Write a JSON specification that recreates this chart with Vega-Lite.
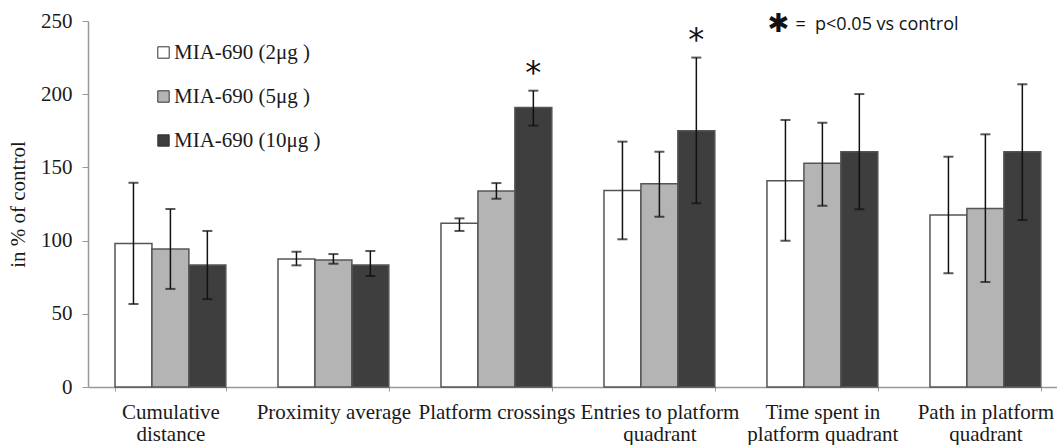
{
  "$schema": "https://vega.github.io/schema/vega-lite/v6.json",
  "autosize": {"type": "none"},
  "width": 969,
  "height": 366,
  "padding": {"left": 88, "top": 21, "right": 0, "bottom": 58},
  "background": "white",
  "config": {
    "view": {"stroke": null},
    "font": "Liberation Serif"
  },
  "data": {
    "values": [
      {"group": "Cumulative distance", "dose": "MIA-690 (2μg )", "value": 98, "lo": 56.7, "hi": 139.5, "sig": false},
      {"group": "Cumulative distance", "dose": "MIA-690 (5μg )", "value": 94.3, "lo": 67, "hi": 121.6, "sig": false},
      {"group": "Cumulative distance", "dose": "MIA-690 (10μg )", "value": 83.3, "lo": 60, "hi": 106.6, "sig": false},
      {"group": "Proximity average", "dose": "MIA-690 (2μg )", "value": 87.4, "lo": 83.1, "hi": 92.4, "sig": false},
      {"group": "Proximity average", "dose": "MIA-690 (5μg )", "value": 86.7, "lo": 84.2, "hi": 90.8, "sig": false},
      {"group": "Proximity average", "dose": "MIA-690 (10μg )", "value": 83.3, "lo": 75.8, "hi": 92.9, "sig": false},
      {"group": "Platform crossings", "dose": "MIA-690 (2μg )", "value": 111.8, "lo": 106.6, "hi": 115.2, "sig": false},
      {"group": "Platform crossings", "dose": "MIA-690 (5μg )", "value": 133.9, "lo": 128.6, "hi": 139.3, "sig": false},
      {"group": "Platform crossings", "dose": "MIA-690 (10μg )", "value": 191, "lo": 178.5, "hi": 202.4, "sig": true},
      {"group": "Entries to platform quadrant", "dose": "MIA-690 (2μg )", "value": 134.3, "lo": 100.9, "hi": 167.6, "sig": false},
      {"group": "Entries to platform quadrant", "dose": "MIA-690 (5μg )", "value": 138.9, "lo": 116.3, "hi": 160.7, "sig": false},
      {"group": "Entries to platform quadrant", "dose": "MIA-690 (10μg )", "value": 175, "lo": 125.5, "hi": 225, "sig": true},
      {"group": "Time spent in platform quadrant", "dose": "MIA-690 (2μg )", "value": 140.9, "lo": 99.9, "hi": 182.4, "sig": false},
      {"group": "Time spent in platform quadrant", "dose": "MIA-690 (5μg )", "value": 152.8, "lo": 123.8, "hi": 180.5, "sig": false},
      {"group": "Time spent in platform quadrant", "dose": "MIA-690 (10μg )", "value": 160.7, "lo": 121.4, "hi": 200.1, "sig": false},
      {"group": "Path in platform quadrant", "dose": "MIA-690 (2μg )", "value": 117.5, "lo": 77.7, "hi": 157.3, "sig": false},
      {"group": "Path in platform quadrant", "dose": "MIA-690 (5μg )", "value": 122, "lo": 71.7, "hi": 172.6, "sig": false},
      {"group": "Path in platform quadrant", "dose": "MIA-690 (10μg )", "value": 160.7, "lo": 114, "hi": 206.8, "sig": false}
    ]
  },
  "encoding": {
    "x": {
      "field": "group",
      "type": "nominal",
      "sort": null,
      "scale": {"paddingInner": 0.32, "paddingOuter": 0.1325, "align": 0.625},
      "axis": {
        "title": null,
        "labelAngle": 0,
        "labelFont": "Liberation Serif",
        "labelFontSize": 21,
        "labelColor": "#1a1a1a",
        "labelPadding": 10,
        "labelLineHeight": 22,
        "labelExpr": "datum.value == 'Cumulative distance' ? ['Cumulative','distance'] : datum.value == 'Entries to platform quadrant' ? ['Entries to platform','quadrant'] : datum.value == 'Time spent in platform quadrant' ? ['Time spent in','platform quadrant'] : datum.value == 'Path in platform quadrant' ? ['Path in platform','quadrant'] : datum.label",
        "domainColor": "#999999",
        "domainWidth": 1.5,
        "tickBand": "extent",
        "tickColor": "#999999",
        "tickSize": 4
      }
    },
    "xOffset": {
      "field": "dose",
      "type": "nominal",
      "scale": {"domain": ["MIA-690 (2μg )", "MIA-690 (5μg )", "MIA-690 (10μg )"], "paddingInner": 0, "paddingOuter": 0}
    }
  },
  "layer": [
    {
      "mark": {"type": "bar", "stroke": "#555555", "strokeWidth": 1.5},
      "encoding": {
        "y": {
          "field": "value",
          "type": "quantitative",
          "stack": null,
          "scale": {"domain": [0, 250], "nice": false},
          "axis": {
            "title": "in % of control",
            "titleFont": "Liberation Serif",
            "titleFontSize": 21,
            "titleFontWeight": "normal",
            "titleColor": "#1a1a1a",
            "titlePadding": 12,
            "values": [0, 50, 100, 150, 200, 250],
            "labelFont": "Liberation Serif",
            "labelFontSize": 21,
            "labelColor": "#1a1a1a",
            "labelPadding": 10,
            "grid": false,
            "domainColor": "#999999",
            "domainWidth": 1.5,
            "tickColor": "#999999",
            "tickSize": 6
          }
        },
        "color": {
          "field": "dose",
          "type": "nominal",
          "scale": {"domain": ["MIA-690 (2μg )", "MIA-690 (5μg )", "MIA-690 (10μg )"], "range": ["#ffffff", "#b4b4b4", "#3e3e3e"]},
          "legend": {
            "title": null,
            "orient": "none",
            "legendX": 65,
            "legendY": 21,
            "symbolType": "square",
            "symbolSize": 130,
            "symbolStrokeColor": "#333333",
            "symbolStrokeWidth": 1,
            "labelFont": "Liberation Serif",
            "labelFontSize": 21,
            "labelColor": "#1a1a1a",
            "labelOffset": 0,
            "rowPadding": 22
          }
        }
      }
    },
    {
      "mark": {"type": "rule", "color": "#111111", "strokeWidth": 1.5},
      "encoding": {
        "y": {"field": "lo", "type": "quantitative", "scale": {"domain": [0, 250], "nice": false}},
        "y2": {"field": "hi"}
      }
    },
    {
      "mark": {"type": "tick", "color": "#111111", "thickness": 2, "size": 10},
      "encoding": {"y": {"field": "lo", "type": "quantitative", "scale": {"domain": [0, 250], "nice": false}}}
    },
    {
      "mark": {"type": "tick", "color": "#111111", "thickness": 2, "size": 10},
      "encoding": {"y": {"field": "hi", "type": "quantitative", "scale": {"domain": [0, 250], "nice": false}}}
    },
    {
      "transform": [{"filter": "datum.sig"}],
      "mark": {"type": "text", "text": "*", "font": "DejaVu Sans", "fontSize": 32, "baseline": "top", "dy": -33, "color": "#111111"},
      "encoding": {"y": {"field": "hi", "type": "quantitative", "scale": {"domain": [0, 250], "nice": false}}}
    },
    {
      "data": {"values": [{"group": "Time spent in platform quadrant", "y": 247, "star": "✱", "note": "= \u00a0p<0.05 vs control"}]},
      "encoding": {"xOffset": null},
      "layer": [
        {
          "mark": {"type": "text", "font": "DejaVu Sans", "fontSize": 26, "align": "center", "baseline": "middle", "dx": -44, "dy": -1, "color": "#111111"},
          "encoding": {
            "x": {"field": "group", "type": "nominal", "sort": null},
            "y": {"field": "y", "type": "quantitative", "scale": {"domain": [0, 250], "nice": false}},
            "text": {"field": "star"}
          }
        },
        {
          "mark": {"type": "text", "font": "Open Sans", "fontSize": 18, "align": "left", "baseline": "middle", "dx": -27, "dy": 0, "color": "#111111"},
          "encoding": {
            "x": {"field": "group", "type": "nominal", "sort": null},
            "y": {"field": "y", "type": "quantitative", "scale": {"domain": [0, 250], "nice": false}},
            "text": {"field": "note"}
          }
        }
      ]
    }
  ]
}
